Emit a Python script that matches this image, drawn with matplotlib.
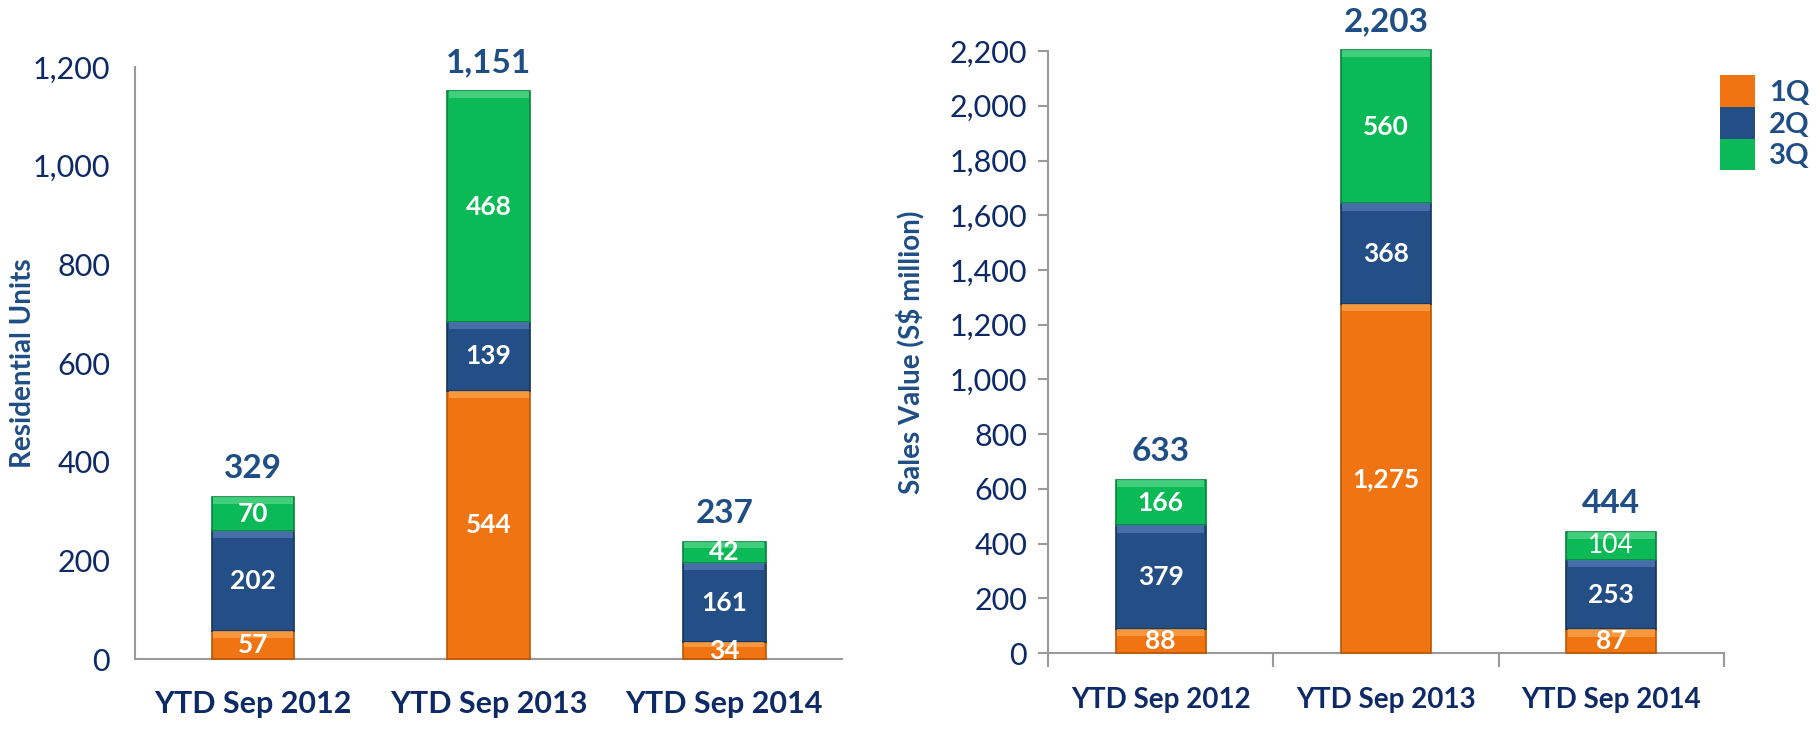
import numpy as np
import matplotlib
matplotlib.use("Agg")
import matplotlib.pyplot as plt
import matplotlib.patches as mpatches
from matplotlib.ticker import FuncFormatter, FixedLocator

# data
categories = ["YTD Sep 2012", "YTD Sep 2013", "YTD Sep 2014"]
quarters = ["1Q", "2Q", "3Q"]
units_q1 = [57, 544, 34]
units_q2 = [202, 139, 161]
units_q3 = [70, 468, 42]
units_total = [329, 1151, 237]
value_q1 = [88, 1275, 87]
value_q2 = [379, 368, 253]
value_q3 = [166, 560, 104]
value_total = [633, 2203, 444]

# colours
C_ORANGE = "#F07412"
C_BLUE = "#234E86"
C_GREEN = "#0BB956"
C_TOTAL = "#1F4E85"
C_TICK = "#0E2A66"
C_AXIS = "#9a9a9a"
EDGE = {C_ORANGE: "#b85607", C_BLUE: "#17355d", C_GREEN: "#08833d"}
LIGHT = {C_ORANGE: "#f9a24a", C_BLUE: "#4f78b3", C_GREEN: "#4fd585"}

FONT = "Lato"
plt.rcParams["font.family"] = [FONT, "DejaVu Sans"]

fig = plt.figure(figsize=(18.2, 7.29), dpi=100)
ax1 = fig.add_axes([0.0742, 0.096, 0.3885, 0.812])
ax2 = fig.add_axes([0.5758, 0.104, 0.3714, 0.826])


def fmt_thousands(v, pos=None):
    return f"{int(v):,}"


def draw_stack(ax, series, totals, width, ymax, step, seg_size, xlab_size,
               light_labels=()):
    x = np.arange(len(categories))
    bottom = np.zeros(len(categories))
    colors = [C_ORANGE, C_BLUE, C_GREEN]
    for si, (vals, col) in enumerate(zip(series, colors)):
        vals = np.array(vals, dtype=float)
        ax.bar(x, vals, width, bottom=bottom, color=col,
               edgecolor=EDGE[col], linewidth=1.2, zorder=3, clip_on=False)
        # lighter bevel strip at top of each segment
        strip = np.minimum(ymax * 0.012, vals * 0.3)
        ax.bar(x, strip, width * 0.97, bottom=bottom + vals - strip,
               color=LIGHT[col], linewidth=0, zorder=4, alpha=0.8, clip_on=False)
        for i, v in enumerate(vals):
            weight = "normal" if (si, i) in light_labels else "bold"
            ax.text(x[i], bottom[i] + v / 2, f"{int(v):,}",
                    ha="center", va="center", color="white",
                    fontsize=seg_size, fontweight=weight, zorder=5)
        bottom += vals
    for i, t in enumerate(totals):
        ax.annotate(f"{t:,}", (x[i], bottom[i]), xytext=(0, 10),
                    textcoords="offset points", ha="center", va="bottom",
                    fontsize=24, fontweight="bold", color=C_TOTAL,
                    annotation_clip=False)

    ax.set_xlim(-0.5, len(categories) - 0.5)
    ax.set_ylim(0, ymax)
    ax.yaxis.set_major_locator(FixedLocator(np.arange(0, ymax + 1, step)))
    ax.yaxis.set_major_formatter(FuncFormatter(fmt_thousands))
    ax.set_xticks(x)
    ax.set_xticklabels(categories, fontsize=xlab_size, fontweight="bold", color=C_TICK)
    for s in ["top", "right"]:
        ax.spines[s].set_visible(False)
    for s in ["left", "bottom"]:
        ax.spines[s].set_color(C_AXIS)
        ax.spines[s].set_linewidth(1.5)
    ax.tick_params(axis="y", labelsize=22, labelcolor=C_TICK)


# left chart: residential units
draw_stack(ax1, [units_q1, units_q2, units_q3], units_total, 0.35, 1200, 200, 19, 22)
ax1.tick_params(axis="y", length=0, pad=18)
ax1.tick_params(axis="x", length=0, pad=22)
ax1.set_ylabel("Residential Units", fontsize=20, fontweight="bold", color=C_TOTAL)
ax1.yaxis.set_label_coords(-0.14, 0.5)

# right chart: sales value
draw_stack(ax2, [value_q1, value_q2, value_q3], value_total, 0.40, 2200, 200, 19, 20,
           light_labels={(2, 2)})
ax2.tick_params(axis="y", length=7, width=1.5, color=C_AXIS, pad=8)
ax2.tick_params(axis="x", which="major", length=0, pad=24)
ax2.set_xticks(np.arange(-0.5, len(categories)), minor=True)
ax2.tick_params(axis="x", which="minor", length=10, width=1.5, color=C_AXIS)
ax2.set_ylabel("Sales Value (S$ million)", fontsize=20, fontweight="bold", color=C_TOTAL)
ax2.yaxis.set_label_coords(-0.182, 0.5)

# legend
handles = [mpatches.Patch(facecolor=c, edgecolor="none", label=q)
           for c, q in zip([C_ORANGE, C_BLUE, C_GREEN], quarters)]
leg = fig.legend(handles=handles, loc="upper left", bbox_to_anchor=(0.9385, 0.913),
                 frameon=False, fontsize=21, labelspacing=0.0, handlelength=1.2,
                 handleheight=1.3, handletextpad=0.5, borderaxespad=0)
for t in leg.get_texts():
    t.set_fontweight("bold")
    t.set_color(C_TOTAL)

fig.savefig("out.png", dpi=100, facecolor="white")
